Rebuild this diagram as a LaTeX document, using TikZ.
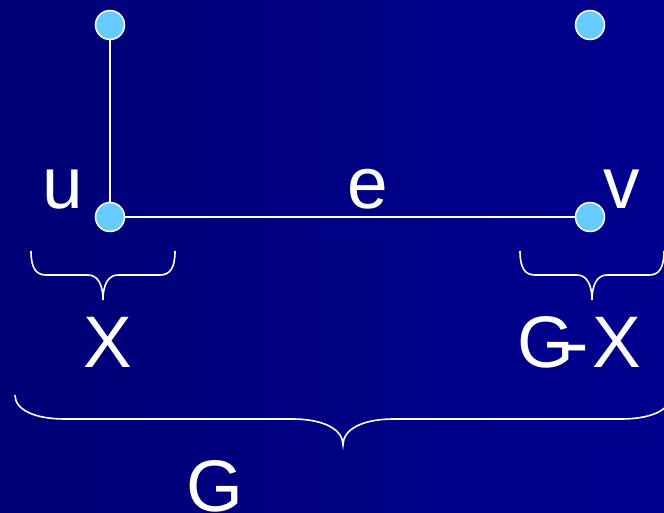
\documentclass[tikz,border=0pt]{standalone}
\usepackage{fontspec}
\setmainfont{Liberation Sans}
\definecolor{bgleft}{RGB}{0,0,118}
\definecolor{bgright}{RGB}{0,0,142}
\definecolor{nodeblue}{RGB}{102,204,255}
\begin{document}
\begin{tikzpicture}[x=1pt,y=-1pt,
  vertex/.style={circle, fill=nodeblue, draw=white, line width=1.5pt,
    minimum size=29pt, inner sep=0pt},
  edge/.style={draw=white, line width=2pt},
  brace/.style={draw=white, line width=1.6pt},
  lbl/.style={text=white, font=\fontsize{73}{80}\selectfont, anchor=base,
    inner sep=0pt}]
  % background
  \shade[left color=bgleft, right color=bgright] (0,0) rectangle (664,512);
  \useasboundingbox (0,0) rectangle (664,512);

  % vertices
  \node[vertex] (a) at (110,25) {};
  \node[vertex] (b) at (590,25) {};
  \node[vertex] (u) at (110,217) {};
  \node[vertex] (v) at (590,217) {};

  % edges
  \draw[edge] (a) -- (u);
  \draw[edge] (u) -- (v);

  % labels
  \node[lbl] (lu) at (63,208) {u};
  \node[lbl] (le) at (368,208) {e};
  \node[lbl] (lv) at (622,208) {v};
  \node[lbl] (lx) at (108,367) {X};
  \node[lbl] (lgx) at (579,367) {G\kern-9pt-\kern3pt X};
  \node[lbl] (lg) at (215,511) {G};

  % brace under X
  \draw[brace] (31,251) .. controls (31,268) and (36,275) .. (46,275)
    -- (88,275) .. controls (98,275) and (103,285) .. (103,300)
    .. controls (103,285) and (108,275) .. (118,275)
    -- (160,275) .. controls (170,275) and (175,268) .. (175,251);
  % brace under G-X
  \draw[brace] (520,251) .. controls (520,268) and (525,275) .. (535,275)
    -- (577,275) .. controls (587,275) and (592,285) .. (592,300)
    .. controls (592,285) and (597,275) .. (607,275)
    -- (649,275) .. controls (659,275) and (664,268) .. (664,251);
  % brace under G
  \draw[brace] (15,395) .. controls (15,410) and (35,419) .. (65,419)
    -- (292,419) .. controls (325,419) and (343,430) .. (343,445)
    .. controls (343,430) and (361,419) .. (394,419)
    -- (621,419) .. controls (651,419) and (671,410) .. (671,395);
\end{tikzpicture}
\end{document}
